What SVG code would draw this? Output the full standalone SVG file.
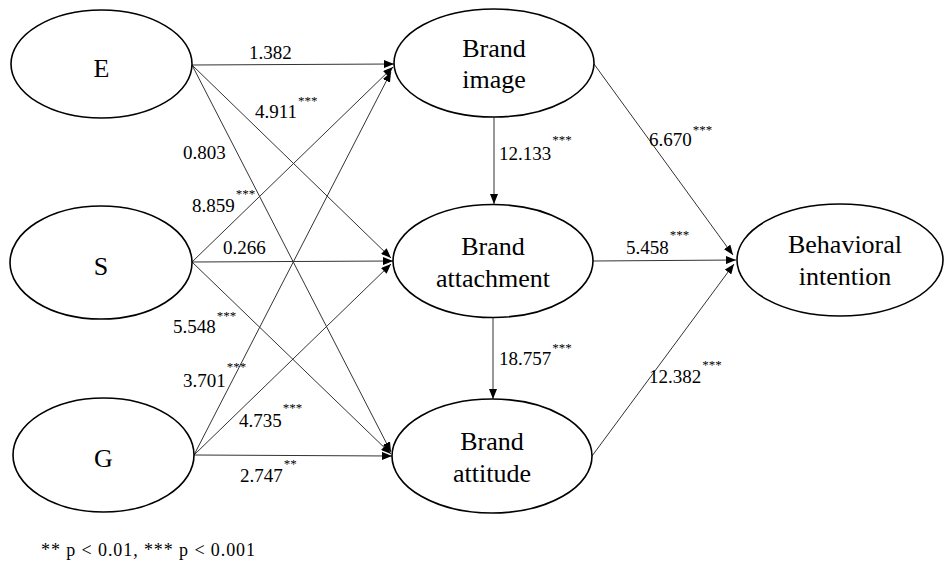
<svg xmlns="http://www.w3.org/2000/svg" width="944" height="567" viewBox="0 0 944 567">
<style>
text{font-family:'Liberation Serif','Tinos','Times New Roman','DejaVu Serif',serif;fill:#000}
.node ellipse{fill:#fff;stroke:#000;stroke-width:1.6}
.node text{font-size:26px;text-anchor:middle}
.conn line{stroke:#333;stroke-width:1;marker-end:url(#ah)}
.lbl{font-size:19px}
.sup{font-size:13px}
.note{font-size:18px}
</style>
<defs>
<marker id="ah" markerUnits="userSpaceOnUse" markerWidth="10" markerHeight="8" refX="10" refY="4" orient="auto">
<path d="M0,0 L10,4 L0,8 z" fill="#000"/>
</marker>
</defs>
<rect width="944" height="567" fill="#fff"/>
<g id="connectors" class="conn">
<line x1="192" y1="65" x2="394" y2="64"/>
<line x1="192" y1="65" x2="391" y2="258"/>
<line x1="192" y1="65" x2="391" y2="452"/>
<line x1="192" y1="262" x2="393" y2="67"/>
<line x1="192" y1="262" x2="393" y2="261"/>
<line x1="192" y1="262" x2="391" y2="454"/>
<line x1="194" y1="455" x2="391" y2="72"/>
<line x1="194" y1="455" x2="391" y2="264"/>
<line x1="194" y1="455" x2="392" y2="456"/>
<line x1="494" y1="116" x2="494" y2="204"/>
<line x1="493" y1="318" x2="493" y2="399"/>
<line x1="594" y1="64" x2="733" y2="255"/>
<line x1="593" y1="261" x2="736" y2="260"/>
<line x1="592" y1="456" x2="734" y2="264"/>
</g>
<g id="node-E" class="node"><ellipse cx="101.5" cy="64" rx="90.5" ry="54"/><text x="101.5" y="77">E</text></g>
<g id="node-S" class="node"><ellipse cx="101" cy="262.5" rx="91" ry="56.5"/><text x="101" y="275">S</text></g>
<g id="node-G" class="node"><ellipse cx="103.5" cy="455" rx="90.5" ry="57"/><text x="103.5" y="467">G</text></g>
<g id="node-image" class="node"><ellipse cx="494" cy="63" rx="100" ry="54"/><text x="494" y="57">Brand</text><text x="494" y="88">image</text></g>
<g id="node-attachment" class="node"><ellipse cx="493" cy="261" rx="100" ry="56.5"/><text x="493" y="255">Brand</text><text x="493" y="287">attachment</text></g>
<g id="node-attitude" class="node"><ellipse cx="492" cy="456" rx="100" ry="57"/><text x="492" y="450">Brand</text><text x="492" y="482">attitude</text></g>
<g id="node-behavioral" class="node"><ellipse cx="840" cy="260" rx="103" ry="56"/><text x="845" y="253">Behavioral</text><text x="845" y="285">intention</text></g>
<g id="labels" class="lbl">
<text x="249" y="59">1.382</text>
<text x="255" y="118">4.911<tspan class="sup" dx="1" y="105">***</tspan></text>
<text x="183" y="159">0.803</text>
<text x="192" y="212">8.859<tspan class="sup" dx="1" y="198">***</tspan></text>
<text x="223" y="254">0.266</text>
<text x="173" y="333">5.548<tspan class="sup" dx="1" y="320">***</tspan></text>
<text x="183" y="387">3.701<tspan class="sup" dx="1" y="371">***</tspan></text>
<text x="239" y="427">4.735<tspan class="sup" dx="1" y="412">***</tspan></text>
<text x="240" y="482">2.747<tspan class="sup" dx="1" y="468">**</tspan></text>
<text x="499" y="160">12.133<tspan class="sup" dx="1" y="144">***</tspan></text>
<text x="649" y="146">6.670<tspan class="sup" dx="1" y="134">***</tspan></text>
<text x="626" y="254">5.458<tspan class="sup" dx="1" y="239">***</tspan></text>
<text x="499" y="365">18.757<tspan class="sup" dx="1" y="352">***</tspan></text>
<text x="649" y="383">12.382<tspan class="sup" dx="1" y="369">***</tspan></text>
</g>
<text class="note" x="41" y="556" textLength="214" lengthAdjust="spacing">** p &lt; 0.01, *** p &lt; 0.001</text>
</svg>
